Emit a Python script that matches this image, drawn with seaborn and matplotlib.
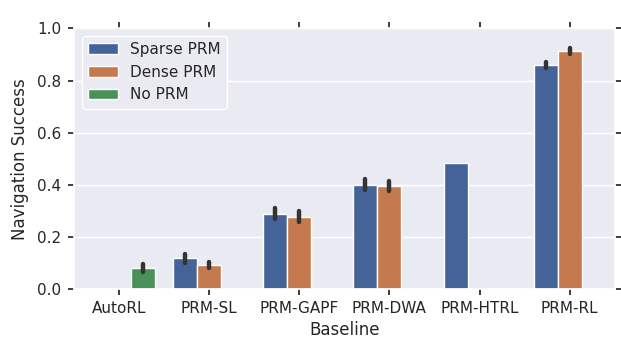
import numpy as np
import pandas as pd
import matplotlib
matplotlib.use("Agg")
import matplotlib.pyplot as plt
import seaborn as sns

categories = ["AutoRL", "PRM-SL", "PRM-GAPF", "PRM-DWA", "PRM-HTRL", "PRM-RL"]
hue_levels = ["Sparse PRM", "Dense PRM", "No PRM"]
colors = ["#436399", "#C47A4E", "#4A9158"]

sparse_vals = [None, 0.118, 0.289, 0.400, 0.485, 0.860]
sparse_err = [None, 0.017, 0.022, 0.022, 0.0, 0.012]
dense_vals = [None, 0.092, 0.278, 0.395, None, 0.913]
dense_err = [None, 0.013, 0.020, 0.020, None, 0.010]
noprm_vals = [0.082, None, None, None, None, None]
noprm_err = [0.015, None, None, None, None, None]

rows = []
for level, vals, errs in [("Sparse PRM", sparse_vals, sparse_err),
                          ("Dense PRM", dense_vals, dense_err),
                          ("No PRM", noprm_vals, noprm_err)]:
    for cat, v, e in zip(categories, vals, errs):
        if v is None:
            continue
        rows.append({"Baseline": cat, "Method": level, "Navigation Success": v - e})
        rows.append({"Baseline": cat, "Method": level, "Navigation Success": v + e})
df = pd.DataFrame(rows)

sns.set_theme(context="notebook", style="darkgrid", palette="deep")
plt.rcParams.update({
    "xtick.bottom": True, "xtick.top": True,
    "ytick.left": True, "ytick.right": True,
    "xtick.major.size": 4.5, "ytick.major.size": 4.5,
    "xtick.major.pad": 4.5, "ytick.major.pad": 4.5,
    "xtick.direction": "out", "ytick.direction": "out",
    "xtick.color": ".15", "ytick.color": ".15",
})

fig = plt.figure(figsize=(6.21, 3.42), dpi=100)
ax = fig.add_axes([0.119, 0.155, 0.871, 0.762])

sns.barplot(data=df, x="Baseline", y="Navigation Success", hue="Method",
            order=categories, hue_order=hue_levels, ax=ax,
            palette=colors, saturation=1.0,
            errorbar=lambda x: (x.min(), x.max()),
            err_kws={"color": ".2", "linewidth": 3.2, "solid_capstyle": "round"},
            edgecolor="white", linewidth=1.0)

ax.set_ylim(0, 1.0)
ax.set_yticks([0.0, 0.2, 0.4, 0.6, 0.8, 1.0])
ax.set_yticklabels(["0.0", "0.2", "0.4", "0.6", "0.8", "1.0"])
ax.grid(axis="x", visible=False)
ax.set_xlabel("Baseline", fontsize=12, labelpad=3)
ax.set_ylabel("Navigation Success", fontsize=12, labelpad=6)
ax.tick_params(axis="x", top=True, bottom=True)
ax.tick_params(axis="y", left=True, right=True)

leg = ax.legend(loc="upper left", frameon=True, fontsize=11, title=None,
                facecolor="#EAEAF2", edgecolor="white", framealpha=1.0)

fig.savefig("out.png", dpi=100)
